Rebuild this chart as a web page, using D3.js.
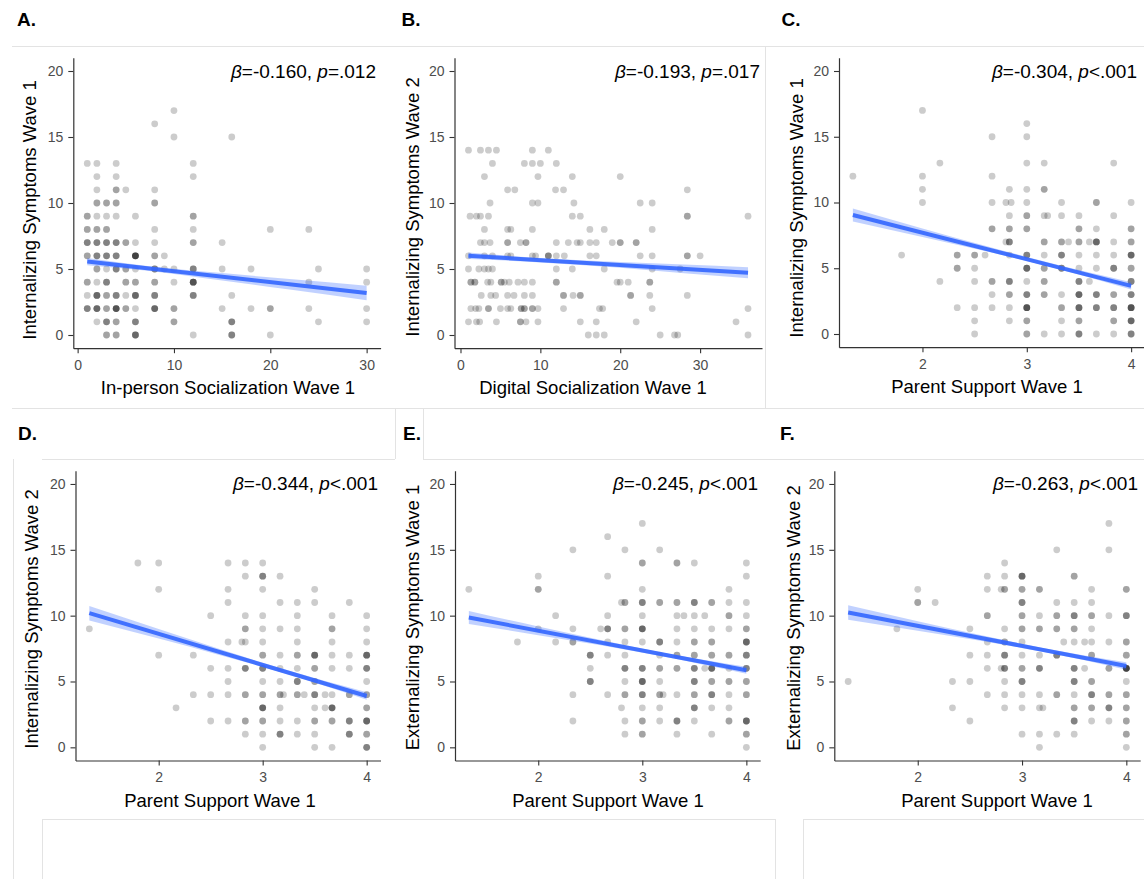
<!DOCTYPE html>
<html><head><meta charset="utf-8">
<script src="https://cdn.jsdelivr.net/npm/d3@7"></script>
<style>
body{margin:0;background:#fff;}
svg{display:block;font-family:"Liberation Sans",Arial,Helvetica,sans-serif;}
</style>
</head><body>
<svg id="c" width="1144" height="879"></svg>
<script>
// ---------------- DATA ----------------
const panelLabels = ["A.","B.","C.","D.","E.","F."];
const xTitles = ["In-person Socialization Wave 1","Digital Socialization Wave 1","Parent Support Wave 1",
                 "Parent Support Wave 1","Parent Support Wave 1","Parent Support Wave 1"];
const yTitles = ["Internalizing Symptoms Wave 1","Internalizing Symptoms Wave 2","Internalizing Symptoms Wave 1",
                 "Internalizing Symptoms Wave 2","Externalizing Symptoms Wave 1","Externalizing Symptoms Wave 2"];
const betas = ["=-0.160, ","=-0.193, ","=-0.304, ","=-0.344, ","=-0.245, ","=-0.263, "];
const pvals = ["=.012","=.017","<.001","<.001","<.001","<.001"];
const xTicksSocial = [0,10,20,30];
const xTicksParent = [2,3,4];
const yTicks = [0,5,10,15,20];

// points: [x, y, count of overlapping observations]
const pointsA = [
[10,17,1],[8,16,1],[10,15,1],[16,15,1],
[1,13,1],[2,13,1],[4,13,1],[12,13,1],
[2,12,1],[4,12,1],[12,12,1],
[2,11,1],[4,11,2],[5,11,1],[8,11,1],
[2,10,2],[3,10,2],[4,10,2],[8,10,2],
[1,9,2],[2,9,1],[3,9,1],[4,9,1],[6,9,1],[12,9,2],
[1,8,2],[2,8,2],[3,8,2],[8,8,1],[12,8,1],[20,8,1],[24,8,1],
[1,7,3],[2,7,3],[3,7,3],[4,7,3],[5,7,2],[6,7,1],[8,7,1],[12,7,2],[15,7,1],
[1,6,2],[2,6,3],[3,6,3],[4,6,3],[6,6,6],[8,6,2],[9,6,1],
[2,5,2],[3,5,1],[4,5,3],[5,5,2],[6,5,1],[8,5,3],[9,5,1],[10,5,1],[12,5,3],[15,5,1],[18,5,1],[25,5,1],[30,5,1],
[1,4,2],[2,4,1],[3,4,3],[5,4,2],[6,4,2],[8,4,2],[10,4,1],[12,4,5],[24,4,1],[30,4,1],
[1,3,1],[2,3,4],[3,3,2],[4,3,3],[5,3,1],[6,3,4],[8,3,3],[12,3,3],[16,3,1],
[1,2,3],[2,2,4],[3,2,2],[4,2,5],[5,2,2],[6,2,1],[8,2,4],[10,2,2],[15,2,1],[18,2,1],[20,2,2],[24,2,1],[30,2,1],
[2,1,1],[3,1,3],[4,1,2],[6,1,3],[10,1,2],[16,1,3],[25,1,1],[30,1,1],
[3,0,2],[4,0,2],[6,0,4],[12,0,1],[16,0,3],[20,0,1]
];
const pointsB = [
[1,14,1],[2.5,14,1],[3.5,14,1],[4.5,14,1],[9,14,1],[11,14,1],
[4,13,1],[8,13,1],[9,13,1],[10,13,1],[12,13,1],
[3,12,1],[9.7,12,1],[14,12,1],[20,12,1],
[5.9,11,1],[6.8,11,1],[11.9,11,1],[12.9,11,1],[28.4,11,1],
[3.7,10,1],[9,10,1],[9.7,10,1],[14.2,10,1],[22.5,10,1],[24,10,1],
[1.2,9,1],[2,9,1],[2.5,9,1],[3.5,9,1],[14,9,1],[15,9,1],[28.4,9,2],[36,9,1],
[3,8,1],[5.9,8,1],[6.3,8,1],[9,8,1],[16.2,8,1],[18,8,1],[24,8,1],
[2.5,7,1],[3,7,1],[3.7,7,1],[5.9,7,2],[7.5,7,1],[8.2,7,2],[12,7,1],[13.5,7,1],[14.6,7,1],[15,7,1],[16.2,7,1],[17,7,1],[19,7,1],[20,7,2],[22,7,2],
[1,6,1],[3,6,1],[4,6,1],[5.9,6,1],[6.3,6,1],[9,6,1],[9.4,6,1],[11,6,3],[12,6,1],[13,6,1],[16.2,6,1],[17,6,1],[22.5,6,1],[24,6,1],[28.4,6,2],[30,6,1],
[1,5,1],[2.3,5,1],[3,5,1],[3.5,5,1],[4,5,1],[12,5,1],[14,5,1],[18,5,1],[24,5,1],[27.5,5,1],
[1.3,4,2],[1.8,4,2],[3.4,4,1],[3.8,4,1],[5.1,4,2],[5.5,4,1],[6.1,4,1],[7.2,4,1],[8,4,1],[9,4,1],[12,4,2],[19.6,4,1],[20,4,1],[21,4,1],[23.7,4,2],
[2.6,3,1],[3.8,3,1],[4.4,3,1],[5.9,3,1],[6.7,3,1],[8,3,1],[9,3,1],[12.9,3,2],[14.1,3,1],[15,3,2],[21.3,3,2],[23.7,3,1],[28.4,3,1],
[1.3,2,1],[1.9,2,1],[2.3,2,1],[3.5,2,2],[5,2,1],[5.9,2,1],[6.3,2,1],[7.6,2,2],[8,2,2],[9,2,2],[9.7,2,1],[12.9,2,1],[17.4,2,1],[17.8,2,1],[24,2,1],[36,2,1],
[1,1,1],[2,1,1],[2.4,1,1],[4.5,1,1],[7.5,1,2],[8.2,1,1],[9.7,1,1],[15,1,1],[17,1,1],[22,1,1],[34.5,1,1],
[16,0,1],[17,0,1],[18,0,1],[25,0,1],[26.8,0,1],[27.2,0,1],[36,0,1]
];
const pointsC = [
[2,17,1],[3,16,1],[2.667,15,1],[3,15,1],
[2.167,13,1],[3,13,1],[3.167,13,1],[3.833,13,1],
[1.333,12,1],[2,12,1],[2.667,12,1],
[2,11,1],[2.833,11,1],[3,11,1],[3.167,11,2],
[2,10,1],[2.667,10,1],[2.8,10,1],[2.85,10,1],[3,10,1],[3.333,10,1],[3.667,10,2],[4,10,1],
[2.833,9,1],[3,9,2],[3.167,9,1],[3.2,9,1],[3.333,9,1],[3.5,9,1],[3.833,9,1],
[2.667,8,2],[2.833,8,2],[3,8,2],[3.5,8,2],[3.667,8,1],[4,8,2],
[2.8,7,1],[2.833,7,3],[3.167,7,2],[3.333,7,2],[3.4,7,1],[3.5,7,2],[3.6,7,1],[3.667,7,4],[3.833,7,1],[4,7,2],
[1.8,6,1],[2.333,6,2],[2.5,6,2],[2.6,6,1],[2.833,6,1],[3,6,3],[3.167,6,1],[3.333,6,3],[3.5,6,1],[3.667,6,1],[3.833,6,1],[4,6,4],
[2.333,5,2],[2.5,5,1],[3,5,4],[3.167,5,2],[3.333,5,3],[3.5,5,1],[3.667,5,1],[3.833,5,3],[4,5,2],
[2.167,4,1],[2.5,4,1],[2.667,4,2],[2.833,4,3],[3,4,1],[3.167,4,2],[3.5,4,3],[3.6,4,1],[4,4,3],
[2.667,3,1],[2.833,3,2],[3,3,3],[3.167,3,2],[3.333,3,1],[3.5,3,4],[3.667,3,3],[3.833,3,2],[4,3,3],
[2.333,2,1],[2.5,2,1],[2.667,2,1],[2.833,2,1],[3,2,5],[3.333,2,2],[3.5,2,4],[3.667,2,3],[3.833,2,3],[4,2,5],
[2.5,1,1],[2.833,1,1],[3,1,2],[3.333,1,1],[3.5,1,2],[3.833,1,2],[4,1,4],
[2.5,0,1],[3,0,2],[3.167,0,1],[3.333,0,1],[3.5,0,3],[3.667,0,1],[3.833,0,1],[4,0,3]
];
const pointsD = [
[1.8,14,1],[2,14,1],[2.667,14,1],[2.833,14,1],[3,14,1],
[2.833,13,1],[3,13,3],[3.167,13,1],
[2,12,1],[2.667,12,1],[3,12,1],[3.5,12,1],
[2.667,11,1],[3.167,11,1],[3.333,11,1],[3.5,11,1],[3.833,11,1],
[2.5,10,1],[2.833,10,1],[3,10,1],[3.333,10,1],[3.667,10,1],[4,10,1],
[1.333,9,1],[2.833,9,2],[3,9,1],[3.167,9,1],[3.333,9,1],[3.667,9,2],[4,9,1],
[2.667,8,1],[2.8,8,1],[2.833,8,1],[3,8,1],[3.333,8,1],[3.667,8,1],[4,8,1],
[2,7,1],[2.333,7,1],[3,7,2],[3.167,7,1],[3.333,7,2],[3.5,7,4],[3.667,7,1],[3.833,7,1],[4,7,4],
[2.5,6,1],[2.667,6,1],[2.833,6,3],[3,6,3],[3.167,6,1],[3.333,6,1],[3.5,6,2],[3.667,6,1],[3.833,6,1],[4,6,3],
[2.667,5,1],[3,5,1],[3.167,5,1],[3.333,5,3],[3.5,5,2],[4,5,1],
[2.333,4,1],[2.5,4,1],[2.667,4,1],[2.833,4,2],[3,4,2],[3.167,4,2],[3.2,4,1],[3.333,4,2],[3.4,4,1],[3.5,4,3],[3.6,4,1],[3.667,4,1],[3.833,4,2],[4,4,2],
[2.167,3,1],[3,3,4],[3.167,3,1],[3.5,3,1],[3.6,3,1],[3.667,3,4],[4,3,2],
[2.5,2,1],[2.667,2,1],[2.833,2,2],[3,2,2],[3.167,2,1],[3.333,2,1],[3.5,2,2],[3.667,2,2],[3.833,2,3],[4,2,4],
[2.833,1,1],[3,1,1],[3.167,1,3],[3.333,1,1],[3.5,1,1],[3.833,1,3],[4,1,2],
[3,0,1],[3.5,0,1],[3.667,0,1],[4,0,3]
];
const pointsE = [
[3,17,1],[2.667,16,1],[2.333,15,1],[2.833,15,1],[3.167,15,1],
[3,14,2],[3.333,14,2],[3.5,14,1],[4,14,1],
[2,13,1],[2.667,13,1],[4,13,1],
[1.333,12,1],[2,12,2],[3,12,1],[3.833,12,1],
[2.8,11,1],[2.833,11,2],[3,11,3],[3.167,11,2],[3.333,11,2],[3.5,11,3],[3.667,11,2],[3.833,11,1],[4,11,1],
[2.167,10,1],[2.667,10,1],[3,10,1],[3.333,10,1],[3.4,10,1],[3.5,10,1],[3.6,10,1],[3.833,10,2],[4,10,1],
[2,9,1],[2.333,9,1],[2.6,9,1],[2.667,9,3],[2.833,9,2],[3,9,4],[3.333,9,1],[3.5,9,1],[3.667,9,1],[3.833,9,1],[4,9,2],
[1.8,8,1],[2.167,8,1],[2.333,8,2],[2.667,8,1],[2.833,8,1],[3,8,1],[3.167,8,3],[3.333,8,1],[3.5,8,2],[3.667,8,2],[4,8,4],
[2.5,7,3],[2.667,7,1],[2.833,7,1],[3.167,7,1],[3.333,7,2],[3.5,7,2],[3.667,7,2],[3.833,7,2],[4,7,3],
[2.5,6,1],[2.833,6,3],[3,6,3],[3.167,6,2],[3.333,6,2],[3.5,6,3],[3.6,6,1],[3.667,6,4],[3.833,6,1],[4,6,3],
[2.5,5,3],[2.833,5,1],[3,5,4],[3.167,5,1],[3.5,5,3],[3.667,5,2],[3.833,5,2],[4,5,2],
[2.333,4,1],[2.667,4,1],[2.833,4,2],[3,4,3],[3.167,4,2],[3.2,4,1],[3.333,4,1],[3.5,4,2],[3.667,4,3],[3.833,4,1],[4,4,2],
[2.8,3,1],[3,3,1],[3.167,3,1],[3.5,3,3],[3.667,3,1],[3.833,3,1],
[2.333,2,1],[2.833,2,1],[3,2,2],[3.167,2,1],[3.333,2,3],[3.5,2,1],[3.833,2,2],[4,2,4],
[2.833,1,1],[3,1,2],[3.333,1,1],[3.667,1,1],[4,1,2],
[4,0,1]
];
const pointsF = [
[3.833,17,1],[3.333,15,1],[3.833,15,1],[2.833,14,1],
[2.667,13,1],[2.833,13,1],[3,13,4],[3.5,13,2],
[2,12,1],[2.667,12,1],[2.8,12,1],[2.833,12,2],[3,12,2],[3.167,12,2],[3.667,12,1],[4,12,2],
[2,11,2],[2.167,11,1],[3,11,3],[3.333,11,1],[3.5,11,1],[3.667,11,1],
[2.667,10,2],[3,10,2],[3.167,10,1],[3.333,10,2],[3.5,10,3],[3.667,10,2],[3.833,10,1],[4,10,3],
[1.8,9,1],[2.5,9,1],[2.833,9,1],[3,9,2],[3.167,9,2],[3.333,9,2],[3.5,9,2],[3.667,9,1],
[2.667,8,1],[2.833,8,2],[3,8,1],[3.4,8,1],[3.5,8,1],[3.6,8,1],[3.667,8,1],[3.833,8,1],[4,8,2],
[2.5,7,1],[2.667,7,1],[2.833,7,3],[3,7,1],[3.167,7,1],[3.333,7,3],[3.667,7,2],[4,7,2],
[2.667,6,1],[2.8,6,1],[2.833,6,3],[3,6,2],[3.167,6,3],[3.5,6,3],[3.6,6,1],[3.833,6,2],[4,6,6],
[1.333,5,1],[2.333,5,1],[2.5,5,1],[2.833,5,1],[3,5,3],[3.5,5,3],[3.667,5,2],[4,5,1],
[2.667,4,1],[2.833,4,1],[3,4,1],[3.167,4,1],[3.333,4,2],[3.5,4,1],[3.667,4,3],[3.833,4,2],[4,4,2],
[2.333,3,1],[2.833,3,1],[3,3,1],[3.167,3,1],[3.2,3,1],[3.5,3,2],[3.667,3,2],[3.833,3,3],[4,3,2],
[2.5,2,1],[3.5,2,3],[3.667,2,1],[3.833,2,1],[4,2,2],
[3,1,1],[3.167,1,1],[3.333,1,1],[3.5,1,1],[4,1,2],
[3.167,0,1],[4,0,1]
];

// fitted lines [x, y] and confidence band [x, lo, hi]
const fitA = [[1,5.56],[30,3.18]];
const bandA = [[1,5.28,5.84],[7,4.89,5.25],[15,4.13,4.69],[22,3.44,4.24],[30,2.63,3.73]];
const fitB = [[1,6.0],[36,4.72]];
const bandB = [[1,5.75,6.25],[10,5.5,5.84],[20,5.09,5.53],[28,4.68,5.34],[36,4.30,5.14]];
const fitC = [[1.333,9.05],[4,3.66]];
const bandC = [[1.333,8.55,9.55],[2,7.37,8.03],[2.6,6.31,6.71],[3.2,5.15,5.45],[4,3.38,3.94]];
const fitD = [[1.333,10.19],[4,3.9]];
const bandD = [[1.333,9.64,10.74],[2,8.26,8.98],[2.6,6.98,7.42],[3.2,5.64,5.94],[4,3.62,4.18]];
const fitE = [[1.333,9.86],[4,5.85]];
const bandE = [[1.333,9.36,10.36],[2,8.52,9.18],[2.6,7.75,8.15],[3.2,6.9,7.18],[4,5.59,6.11]];
const fitF = [[1.333,10.24],[4,6.18]];
const bandF = [[1.333,9.69,10.79],[2,8.86,9.58],[2.6,8.09,8.53],[3.2,7.25,7.55],[4,5.9,6.46]];

// ---------------- LAYOUT ----------------
const panels = [
 {pts:pointsA, fit:fitA, band:bandA, xDomain:[-0.45,31.45], xTicks:xTicksSocial, xRange:[73.3,380.6], yRange:[348.2,57.8],
  label:[17,26], xTitleX:228, yTitleX:30, yTitleY:210, annoX:376},
 {pts:pointsB, fit:fitB, band:bandB, xDomain:[-0.75,37.75], xTicks:xTicksSocial, xRange:[454.5,762], yRange:[348.2,57.8],
  label:[401.5,26], xTitleX:593, yTitleX:413, yTitleY:207, annoX:760},
 {pts:pointsC, fit:fitC, band:bandC, xDomain:[1.2,4.133], xTicks:xTicksParent, xRange:[839,1145], yRange:[347.15,57.85],
  label:[781.5,26], xTitleX:987, yTitleX:797, yTitleY:208, annoX:1137},
 {pts:pointsD, fit:fitD, band:bandD, xDomain:[1.2,4.133], xTicks:xTicksParent, xRange:[75.5,380.5], yRange:[760.5,470.8],
  label:[18,439.5], xTitleX:220, yTitleX:32, yTitleY:619, annoX:378},
 {pts:pointsE, fit:fitE, band:bandE, xDomain:[1.2,4.133], xTicks:xTicksParent, xRange:[455,760.2], yRange:[760.5,470.8],
  label:[403,439.5], xTitleX:608, yTitleX:413, yTitleY:617.5, annoX:758},
 {pts:pointsF, fit:fitF, band:bandF, xDomain:[1.2,4.133], xTicks:xTicksParent, xRange:[834.3,1140.2], yRange:[760.5,470.8],
  label:[780,439.5], xTitleX:997, yTitleX:793.5, yTitleY:618, annoX:1138}
];
const yDomain = [-1,21];

// light grey frame lines of the composed figure
const frameLines = [
 [12,46,1144,46],[12,408,1144,408],[765,46,765,408],
 [42,459,395,459],[395,408,395,459],[423,408,423,459],[423,459,1144,459],
 [13,459,13,879],
 [42,819,775,819],[42,819,42,879],[775,819,775,879],
 [803,819,1144,819],[803,819,803,879]
];

const svg = d3.select("#c");
svg.append("g").selectAll("line").data(frameLines).join("line")
  .attr("x1",d=>d[0]).attr("y1",d=>d[1]).attr("x2",d=>d[2]).attr("y2",d=>d[3])
  .attr("stroke","#e3e3e3").attr("stroke-width",1).attr("shape-rendering","crispEdges");

panels.forEach((p,i)=>{
  const x = d3.scaleLinear().domain(p.xDomain).range(p.xRange);
  const y = d3.scaleLinear().domain(yDomain).range(p.yRange);
  const g = svg.append("g");

  // points (expanded by count so overlaps darken)
  const expanded = p.pts.flatMap(d=>d3.range(d[2]).map(()=>d));
  g.append("g").selectAll("circle").data(expanded).join("circle")
    .attr("cx",d=>x(d[0])).attr("cy",d=>y(d[1])).attr("r",3.4)
    .attr("fill","#000").attr("fill-opacity",0.2);

  // confidence band
  const area = d3.area().x(d=>x(d[0])).y0(d=>y(d[1])).y1(d=>y(d[2])).curve(d3.curveMonotoneX);
  g.append("path").datum(p.band).attr("d",area).attr("fill","#3366FF").attr("fill-opacity",0.3);
  // fit line
  g.append("path").datum(p.fit).attr("d",d3.line().x(d=>x(d[0])).y(d=>y(d[1])))
    .attr("stroke","#3366FF").attr("stroke-width",4).attr("fill","none").attr("stroke-opacity",0.9);

  // axes
  const ax = g.append("g").attr("transform",`translate(0,${p.yRange[0]})`)
    .call(d3.axisBottom(x).tickValues(p.xTicks).tickFormat(d3.format("d")).tickSize(5).tickSizeOuter(0).tickPadding(6.5));
  const ay = g.append("g").attr("transform",`translate(${p.xRange[0]},0)`)
    .call(d3.axisLeft(y).tickValues(yTicks).tickFormat(d3.format("d")).tickSize(5).tickSizeOuter(0).tickPadding(5));
  [ax,ay].forEach(a=>{
    a.select(".domain").attr("stroke","#333").attr("stroke-width",1.2);
    a.selectAll(".tick line").attr("stroke","#333").attr("stroke-width",1.1);
    a.selectAll(".tick text").attr("fill","#4d4d4d").style("font-size","14px")
      .style("font-family",'"Liberation Sans",Arial,sans-serif');
  });

  // titles
  g.append("text").attr("x",p.xTitleX).attr("y",p.yRange[0]+46).attr("text-anchor","middle")
    .style("font-size","18.5px").attr("fill","#000").text(xTitles[i]);
  g.append("text").attr("transform",`translate(${p.yTitleX},${p.yTitleY}) rotate(-90)`)
    .attr("text-anchor","middle").attr("dy","0.35em")
    .style("font-size","18.5px").attr("fill","#000").text(yTitles[i]);

  // annotation
  const t = g.append("text").attr("x",p.annoX).attr("y",y(20)+6.5).attr("text-anchor","end")
    .style("font-size","19px").attr("fill","#000");
  t.append("tspan").style("font-style","italic").text("\u03B2");
  t.append("tspan").text(betas[i]);
  t.append("tspan").style("font-style","italic").text("p");
  t.append("tspan").text(pvals[i]);

  // panel label
  g.append("text").attr("x",p.label[0]).attr("y",p.label[1]).style("font-size","19px")
    .style("font-weight","bold").attr("fill","#000").text(panelLabels[i]);
});
</script>
</body></html>
